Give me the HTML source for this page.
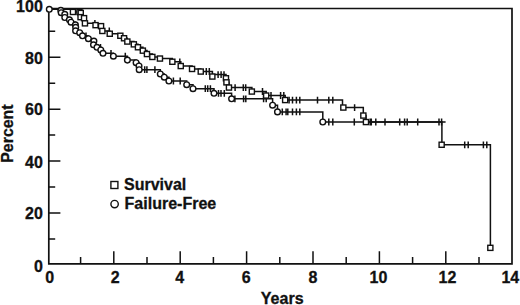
<!DOCTYPE html>
<html><head><meta charset="utf-8"><style>
html,body{margin:0;padding:0;background:#fff;width:520px;height:305px;overflow:hidden}
svg{display:block}
text{font-family:"Liberation Sans",sans-serif;font-weight:bold;fill:#111;stroke:#111;stroke-width:0.3px}
.c{fill:none;stroke:#111;stroke-width:1.5}
.t{fill:none;stroke:#111;stroke-width:1.5}
.m{fill:#fff;stroke:#111;stroke-width:1.4}
.a{fill:none;stroke:#111;stroke-width:1.7}
</style></head><body>
<svg width="520" height="305" viewBox="0 0 520 305">
<path d="M48.8,8.5H512.0V263.9H48.8Z" class="a"/>
<path d="M80.6,263.9V257.1M113.8,263.9V251.2M147.0,263.9V257.1M180.2,263.9V251.2M213.4,263.9V257.1M246.6,263.9V251.2M279.8,263.9V257.1M313.0,263.9V251.2M346.2,263.9V257.1M379.4,263.9V251.2M412.6,263.9V257.1M445.8,263.9V251.2M479.0,263.9V257.1M48.8,238.9H55.2M48.8,213.0H60.4M48.8,187.0H55.2M48.8,161.1H60.4M48.8,135.1H55.2M48.8,109.2H60.4M48.8,83.2H55.2M48.8,57.3H60.4M48.8,31.3H55.2" class="a" style="stroke-width:1.5"/>
<path d="M49.3,9.3H72.9V11.9H79.4V11.9H80.8V13.0H80.8V17.2H84.0V18.2H84.9V23.3H95.6V25.2H101.0V26.2H102.3V31.0H109.7V33.8H120.3V35.7H124.0V38.2H127.3V41.5H133.9V44.3H138.0V47.2H142.9V50.6H147.0V54.0H152.4V56.9H160.0V58.5H172.3V61.8H180.8V66.0H192.1V68.9H200.8V71.5H212.4V74.6H226.0V78.2H226.5V82.3H229.0V87.6H251.9V91.5H266.2V95.5H285.2V100.1H342.5V107.6H363.3V115.6H366.0V122.0H441.9V144.8H490.4V247.9" class="c"/>
<path d="M49.3,9.3H60.8V10.4H61.2V12.7H64.8V14.3H64.8V17.5H69.4V19.8H71.0V22.2H75.4V24.9H75.7V27.3H75.7V30.8H79.7V32.7H82.5V35.8H88.4V38.7H93.9V41.1H93.9V44.8H97.0V47.3H100.8V50.0H103.0V53.3H113.4V56.2H127.4V60.1H136.1V62.7H139.0V66.0H139.2V69.7H160.3V74.0H164.3V77.2H168.9V81.0H186.7V84.7H193.0V88.7H214.0V93.3H231.6V98.8H272.6V105.2H277.5V111.9H322.8V122.0H445.6" class="c"/>
<path d="M94.9,19.9V26.7M109.3,27.6V34.4M179.8,58.4V65.2M206.3,68.1V74.9M209.3,68.1V74.9M218.1,71.2V78.0M221.1,71.2V78.0M224.0,71.2V78.0M235.1,84.2V91.0M243.3,84.2V91.0M245.7,84.2V91.0M262.5,88.1V94.9M271.0,92.1V98.9M280.6,92.1V98.9M283.8,92.1V98.9M289.1,96.7V103.5M292.5,96.7V103.5M296.4,96.7V103.5M299.8,96.7V103.5M317.5,96.7V103.5M328.8,96.7V103.5M332.8,96.7V103.5M354.6,104.2V111.0M370.2,118.6V125.4M371.3,118.6V125.4M375.8,118.6V125.4M385.0,118.6V125.4M399.7,118.6V125.4M404.6,118.6V125.4M407.2,118.6V125.4M417.7,118.6V125.4M439.0,118.6V125.4M464.7,141.4V148.2M468.2,141.4V148.2M483.4,141.4V148.2M486.8,141.4V148.2M86.0,32.4V39.2M100.5,43.9V50.7M111.0,49.9V56.7M125.3,52.8V59.6M144.7,66.3V73.1M146.9,66.3V73.1M154.9,66.3V73.1M173.4,77.6V84.4M180.2,77.6V84.4M205.3,85.3V92.1M207.7,85.3V92.1M210.4,85.3V92.1M218.5,89.9V96.7M221.0,89.9V96.7M224.3,89.9V96.7M234.9,95.4V102.2M243.6,95.4V102.2M245.8,95.4V102.2M263.6,95.4V102.2M266.2,95.4V102.2M282.3,108.5V115.3M286.1,108.5V115.3M287.8,108.5V115.3M292.5,108.5V115.3M296.4,108.5V115.3M299.8,108.5V115.3M328.8,118.6V125.4M332.8,118.6V125.4M354.3,118.6V125.4M441.6,118.6V125.4" class="t"/>
<rect x="70.4" y="9.4" width="5.1" height="5.1" class="m"/>
<rect x="76.9" y="9.4" width="5.1" height="5.1" class="m"/>
<rect x="78.2" y="10.4" width="5.1" height="5.1" class="m"/>
<rect x="78.0" y="14.6" width="5.1" height="5.1" class="m"/>
<rect x="81.5" y="15.6" width="5.1" height="5.1" class="m"/>
<rect x="82.4" y="20.8" width="5.1" height="5.1" class="m"/>
<rect x="93.0" y="22.6" width="5.1" height="5.1" class="m"/>
<rect x="98.5" y="23.6" width="5.1" height="5.1" class="m"/>
<rect x="99.8" y="28.4" width="5.1" height="5.1" class="m"/>
<rect x="107.2" y="31.2" width="5.1" height="5.1" class="m"/>
<rect x="117.8" y="33.2" width="5.1" height="5.1" class="m"/>
<rect x="121.5" y="35.7" width="5.1" height="5.1" class="m"/>
<rect x="124.8" y="39.0" width="5.1" height="5.1" class="m"/>
<rect x="131.3" y="41.8" width="5.1" height="5.1" class="m"/>
<rect x="135.4" y="44.7" width="5.1" height="5.1" class="m"/>
<rect x="140.3" y="48.1" width="5.1" height="5.1" class="m"/>
<rect x="144.4" y="51.5" width="5.1" height="5.1" class="m"/>
<rect x="149.8" y="54.4" width="5.1" height="5.1" class="m"/>
<rect x="157.4" y="56.0" width="5.1" height="5.1" class="m"/>
<rect x="169.8" y="59.2" width="5.1" height="5.1" class="m"/>
<rect x="178.2" y="63.5" width="5.1" height="5.1" class="m"/>
<rect x="189.5" y="66.4" width="5.1" height="5.1" class="m"/>
<rect x="198.2" y="69.0" width="5.1" height="5.1" class="m"/>
<rect x="209.8" y="74.0" width="5.1" height="5.1" class="m"/>
<rect x="223.4" y="75.7" width="5.1" height="5.1" class="m"/>
<rect x="223.9" y="79.8" width="5.1" height="5.1" class="m"/>
<rect x="226.4" y="85.0" width="5.1" height="5.1" class="m"/>
<rect x="249.3" y="89.0" width="5.1" height="5.1" class="m"/>
<rect x="263.6" y="93.0" width="5.1" height="5.1" class="m"/>
<rect x="282.6" y="97.5" width="5.1" height="5.1" class="m"/>
<rect x="340.8" y="105.0" width="5.1" height="5.1" class="m"/>
<rect x="360.8" y="113.0" width="5.1" height="5.1" class="m"/>
<rect x="363.4" y="119.5" width="5.1" height="5.1" class="m"/>
<rect x="439.1" y="142.2" width="5.1" height="5.1" class="m"/>
<rect x="487.8" y="245.3" width="5.1" height="5.1" class="m"/>
<circle cx="49.3" cy="9.3" r="2.85" class="m"/>
<circle cx="60.8" cy="10.4" r="2.85" class="m"/>
<circle cx="61.2" cy="12.7" r="2.85" class="m"/>
<circle cx="64.8" cy="14.3" r="2.85" class="m"/>
<circle cx="64.8" cy="17.5" r="2.85" class="m"/>
<circle cx="69.4" cy="19.8" r="2.85" class="m"/>
<circle cx="71.0" cy="22.2" r="2.85" class="m"/>
<circle cx="75.4" cy="24.9" r="2.85" class="m"/>
<circle cx="75.7" cy="27.3" r="2.85" class="m"/>
<circle cx="75.6" cy="30.8" r="2.85" class="m"/>
<circle cx="79.7" cy="32.7" r="2.85" class="m"/>
<circle cx="82.5" cy="35.8" r="2.85" class="m"/>
<circle cx="88.4" cy="38.7" r="2.85" class="m"/>
<circle cx="93.9" cy="41.1" r="2.85" class="m"/>
<circle cx="93.5" cy="44.8" r="2.85" class="m"/>
<circle cx="97.0" cy="47.3" r="2.85" class="m"/>
<circle cx="100.8" cy="50.0" r="2.85" class="m"/>
<circle cx="103.0" cy="53.3" r="2.85" class="m"/>
<circle cx="113.4" cy="56.2" r="2.85" class="m"/>
<circle cx="127.4" cy="60.1" r="2.85" class="m"/>
<circle cx="136.1" cy="62.7" r="2.85" class="m"/>
<circle cx="139.0" cy="66.0" r="2.85" class="m"/>
<circle cx="139.2" cy="69.7" r="2.85" class="m"/>
<circle cx="160.3" cy="74.0" r="2.85" class="m"/>
<circle cx="164.3" cy="77.2" r="2.85" class="m"/>
<circle cx="168.9" cy="81.0" r="2.85" class="m"/>
<circle cx="186.7" cy="84.7" r="2.85" class="m"/>
<circle cx="193.0" cy="88.7" r="2.85" class="m"/>
<circle cx="214.0" cy="93.3" r="2.85" class="m"/>
<circle cx="231.6" cy="98.8" r="2.85" class="m"/>
<circle cx="272.6" cy="105.2" r="2.85" class="m"/>
<circle cx="277.5" cy="111.9" r="2.85" class="m"/>
<circle cx="322.8" cy="122.0" r="2.85" class="m"/>
<g style="font-size:16px">
<text x="49.6" y="282.6" text-anchor="middle">0</text>
<text x="115.2" y="282.6" text-anchor="middle">2</text>
<text x="179.8" y="282.6" text-anchor="middle">4</text>
<text x="246.2" y="282.6" text-anchor="middle">6</text>
<text x="312.9" y="282.6" text-anchor="middle">8</text>
<text x="378.5" y="282.6" text-anchor="middle">10</text>
<text x="447.4" y="282.6" text-anchor="middle">12</text>
<text x="510.3" y="282.6" text-anchor="middle">14</text>
<text x="42.8" y="271.9" text-anchor="end">0</text>
<text x="42.8" y="219.0" text-anchor="end">20</text>
<text x="42.8" y="167.9" text-anchor="end">40</text>
<text x="42.8" y="114.8" text-anchor="end">60</text>
<text x="42.8" y="64.4" text-anchor="end">80</text>
<text x="42.8" y="11.7" text-anchor="end">100</text>
</g>
<text x="282.2" y="303.6" text-anchor="middle" style="font-size:16px">Years</text>
<text transform="translate(12.5,133.6) rotate(-90)" text-anchor="middle" style="font-size:15.9px">Percent</text>
<rect x="110.9" y="181.5" width="7" height="7" class="m" style="stroke-width:1.4"/>
<circle cx="114.6" cy="204.1" r="3.7" class="m" style="stroke-width:1.4"/>
<text x="124" y="189.8" style="font-size:16px">Survival</text>
<text x="124.6" y="209.4" style="font-size:16px">Failure-Free</text>
</svg>
</body></html>
